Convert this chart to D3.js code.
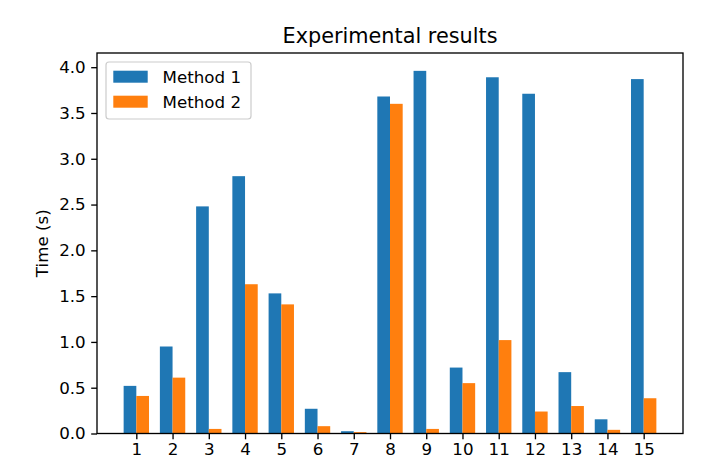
<!DOCTYPE html>
<html>
<head>
<meta charset="utf-8">
<script src="https://cdn.jsdelivr.net/npm/d3@7"></script>
<style>
  html, body { margin: 0; padding: 0; background: #fff; }
  svg { display: block; }
  text { font-family: "DejaVu Sans", sans-serif; fill: #000; }
</style>
</head>
<body>
<svg id="chart" width="724" height="459"></svg>
<script>
const categories = ["1","2","3","4","5","6","7","8","9","10","11","12","13","14","15"];
const method1 = [0.52, 0.95, 2.48, 2.81, 1.53, 0.27, 0.025, 3.68, 3.96, 0.72, 3.89, 3.71, 0.67, 0.155, 3.87];
const method2 = [0.41, 0.61, 0.05, 1.63, 1.41, 0.08, 0.015, 3.60, 0.05, 0.55, 1.02, 0.24, 0.30, 0.04, 0.385];
const seriesNames = ["Method 1", "Method 2"];
const colors = ["#1f77b4", "#ff7f0e"];
const yTicks = [0, 0.5, 1.0, 1.5, 2.0, 2.5, 3.0, 3.5, 4.0];

const svg = d3.select("#chart");
const L = 97, R = 683, T = 53, B = 433.5;
const barW = 0.35;

const x = d3.scaleLinear().domain([-0.085, 16.085]).range([L, R]);
const y = d3.scaleLinear().domain([0, 4.155]).range([B, T]);

const fs = 16.7;

// bars
const series = [method1, method2];
series.forEach((vals, si) => {
  svg.append("g").selectAll("rect").data(vals).join("rect")
    .attr("x", (d, i) => x(i + 1 + (si === 0 ? -barW : 0)))
    .attr("width", x(barW) - x(0))
    .attr("y", d => y(d))
    .attr("height", d => y(0) - y(d))
    .attr("fill", colors[si]);
});

// axes
const xAxis = d3.axisBottom(x)
  .tickValues(categories.map((c, i) => i + 1))
  .tickFormat((d, i) => categories[i])
  .tickSize(5.8).tickPadding(3.4);
const gx = svg.append("g").attr("transform", `translate(0,${B})`).call(xAxis);
gx.select(".domain").remove();
gx.selectAll(".tick line").attr("stroke", "#000").attr("stroke-width", 1.33);
gx.selectAll(".tick text").attr("font-size", fs).attr("font-family", "DejaVu Sans");

const yAxis = d3.axisLeft(y).tickValues(yTicks).tickFormat(d3.format(".1f"))
  .tickSize(5.8).tickPadding(5.5);
const gy = svg.append("g").attr("transform", `translate(${L},0)`).call(yAxis);
gy.select(".domain").remove();
gy.selectAll(".tick line").attr("stroke", "#000").attr("stroke-width", 1.33);
gy.selectAll(".tick text").attr("font-size", fs).attr("font-family", "DejaVu Sans");

// frame
svg.append("rect").attr("x", L).attr("y", T).attr("width", R - L).attr("height", B - T)
  .attr("fill", "none").attr("stroke", "#000").attr("stroke-width", 1.33);

// title
svg.append("text").attr("x", (L + R) / 2).attr("y", 43)
  .attr("text-anchor", "middle").attr("font-size", 20.8).text("Experimental results");

// y label
svg.append("text").attr("transform", `translate(48,${(T + B) / 2}) rotate(-90)`)
  .attr("text-anchor", "middle").attr("font-size", fs).text("Time (s)");

// legend
const lg = svg.append("g");
lg.append("rect").attr("x", 106).attr("y", 62).attr("width", 145).attr("height", 57)
  .attr("rx", 3).attr("fill", "#fff").attr("fill-opacity", 0.8)
  .attr("stroke", "#cccccc").attr("stroke-width", 1.2);
seriesNames.forEach((n, i) => {
  const yy = 70.7 + i * 25;
  lg.append("rect").attr("x", 113.3).attr("y", yy).attr("width", 34.4).attr("height", 12)
    .attr("fill", colors[i]);
  lg.append("text").attr("x", 162.5).attr("y", yy + 12).attr("font-size", fs).text(n);
});
</script>
</body>
</html>
